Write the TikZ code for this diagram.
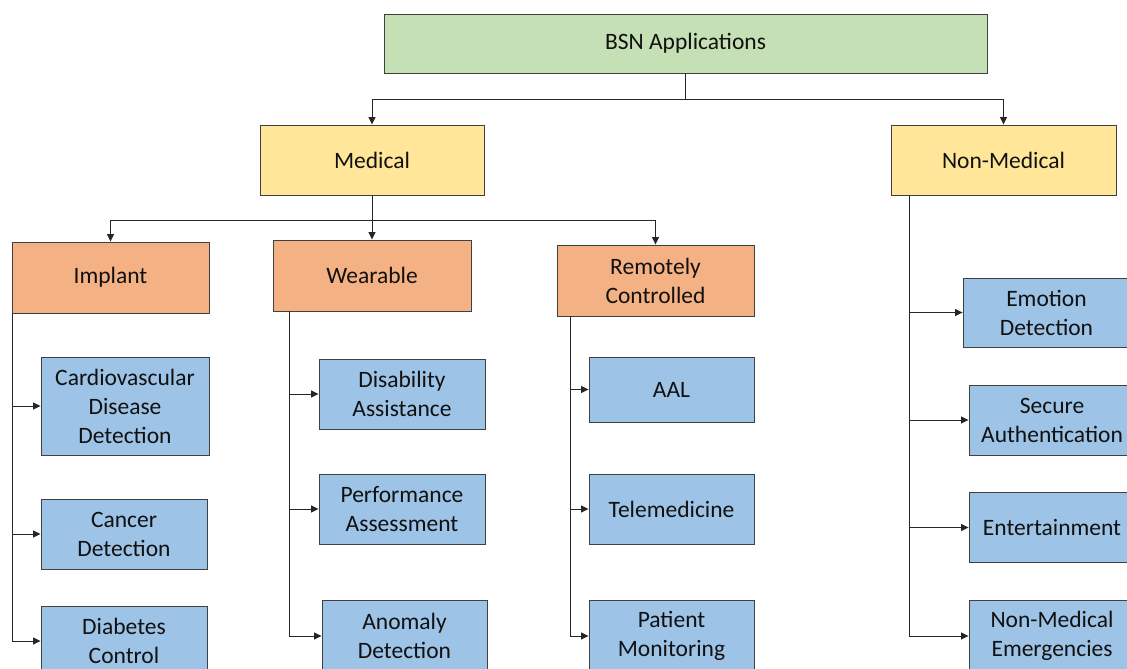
\documentclass[tikz,border=0pt]{standalone}
\usepackage{fontspec}
\setmainfont{Carlito}
\usetikzlibrary{arrows.meta}
\definecolor{cgreen}{HTML}{C5E0B4}
\definecolor{cyellow}{HTML}{FFE699}
\definecolor{corange}{HTML}{F4B183}
\definecolor{cblue}{HTML}{9DC3E6}
\definecolor{ctext}{HTML}{111111}
\tikzset{
  box/.style={draw=black!75, line width=0.9pt, rectangle, align=center, inner sep=0pt,
    font=\fontsize{23.5}{29}\selectfont, text=ctext},
  conn/.style={draw=black!85, line width=1pt},
  arr/.style={conn, -{Triangle[length=7.5pt,width=7pt]}}
}
\begin{document}
\begin{tikzpicture}[x=1pt,y=-1pt]
\clip (0,0) rectangle (1127,669);
\fill[white] (0,0) rectangle (1127,669);
% level 0
\node[box, fill=cgreen, minimum width=603, minimum height=59] (bsn) at (685.5,43.5) {BSN Applications};
% level 1
\node[box, fill=cyellow, minimum width=224, minimum height=70] (med) at (372,160) {Medical};
\node[box, fill=cyellow, minimum width=225, minimum height=70] (nonmed) at (1003.5,160) {Non-Medical};
% level 2
\node[box, fill=corange, minimum width=197, minimum height=71] (impl) at (110.5,277.5) {Implant};
\node[box, fill=corange, minimum width=198, minimum height=71] (wear) at (372,275.5) {Wearable};
\node[box, fill=corange, minimum width=197, minimum height=71] (remo) at (655.5,280.5) {Remotely\\Controlled};
% implant children
\node[box, fill=cblue, minimum width=168, minimum height=98] (cardio) at (125,406) {Cardiovascular\\Disease\\Detection};
\node[box, fill=cblue, minimum width=166, minimum height=70] (cancer) at (124,534) {Cancer\\Detection};
\node[box, fill=cblue, minimum width=166, minimum height=70] (diab) at (124,641) {Diabetes\\Control};
% wearable children
\node[box, fill=cblue, minimum width=166, minimum height=70] (disab) at (402,394) {Disability\\Assistance};
\node[box, fill=cblue, minimum width=166, minimum height=70] (perf) at (402,509) {Performance\\Assessment};
\node[box, fill=cblue, minimum width=165, minimum height=72] (anom) at (404.5,636) {Anomaly\\Detection};
% remote children
\node[box, fill=cblue, minimum width=165, minimum height=65] (aal) at (671.5,389.5) {AAL};
\node[box, fill=cblue, minimum width=165, minimum height=70] (tele) at (671.5,509) {Telemedicine};
\node[box, fill=cblue, minimum width=165, minimum height=72] (pat) at (671.5,636) {Patient\\Monitoring};
% non-medical children
\node[box, fill=cblue, minimum width=167, minimum height=69] (emo) at (1046.5,312.5) {Emotion\\Detection};
\node[box, fill=cblue, minimum width=166, minimum height=70] (sec) at (1052,420) {Secure\\Authentication};
\node[box, fill=cblue, minimum width=166, minimum height=70] (ent) at (1052,527.5) {Entertainment};
\node[box, fill=cblue, minimum width=166, minimum height=72] (nme) at (1052,636) {Non-Medical\\Emergencies};
% connectors
\coordinate (j1) at (685.5,99);
\draw[conn] (bsn) -- (j1);
\draw[arr] (j1) -| (med);
\draw[arr] (j1) -| (nonmed);
\coordinate (j2) at (372,220);
\draw[conn] (med) -- (j2);
\draw[arr] (j2) -| (impl);
\draw[arr] (j2) -| (wear);
\draw[arr] (j2) -| (remo);
\coordinate (iv) at (12,313);
\draw[arr] (iv) |- (cardio);
\draw[arr] (iv) |- (cancer);
\draw[arr] (iv) |- (diab);
\coordinate (wv) at (289,311);
\draw[arr] (wv) |- (disab);
\draw[arr] (wv) |- (perf);
\draw[arr] (wv) |- (anom);
\coordinate (rv) at (570,316);
\draw[arr] (rv) |- (aal);
\draw[arr] (rv) |- (tele);
\draw[arr] (rv) |- (pat);
\coordinate (nv) at (909,195);
\draw[arr] (nv) |- (emo);
\draw[arr] (nv) |- (sec);
\draw[arr] (nv) |- (ent);
\draw[arr] (nv) |- (nme);
\end{tikzpicture}
\end{document}
